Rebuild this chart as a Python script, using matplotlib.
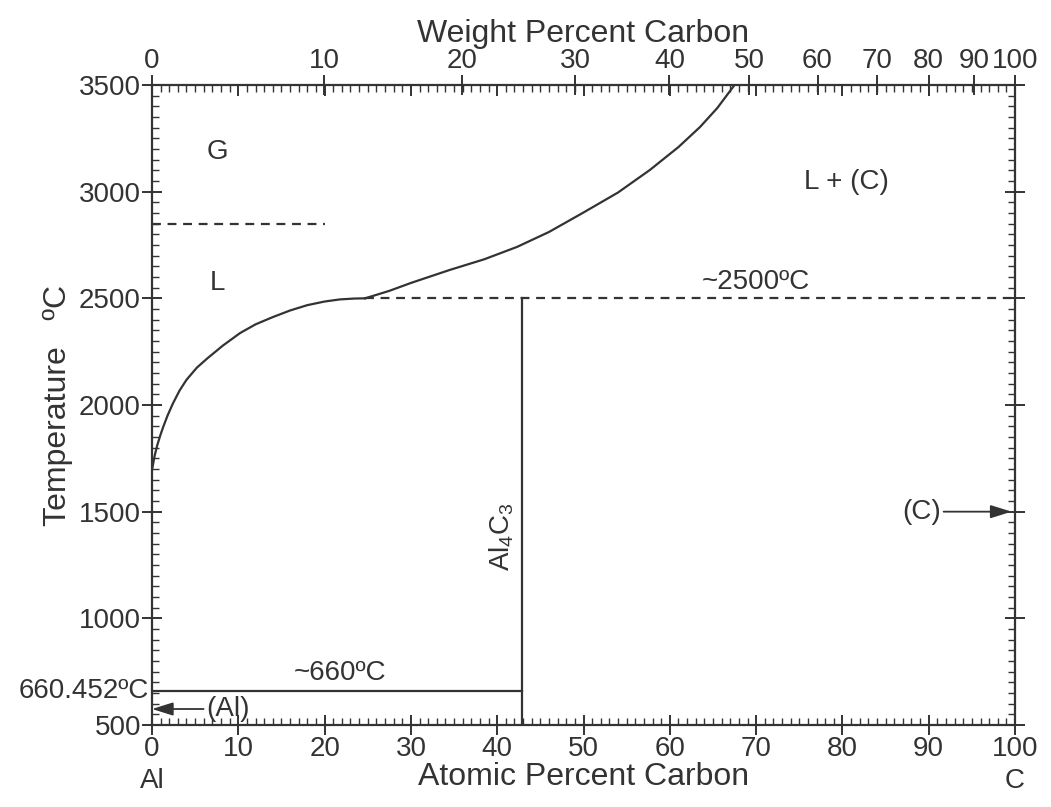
import numpy as np
import matplotlib
matplotlib.use("Agg")
import matplotlib.pyplot as plt
from matplotlib.ticker import MultipleLocator, FixedLocator, NullFormatter

plt.rcParams['font.family'] = ['Liberation Sans', 'DejaVu Sans']
plt.rcParams['mathtext.default'] = 'regular'

# liquidus, Al side (atomic % C, temperature C)
liq_lo_x = [0, 0.3, 0.6, 1.0, 1.3, 1.8, 2.4, 3.2, 4.0, 5.2, 6.4, 8.2, 10.2, 12.0, 14.0,
            16.0, 18.0, 20.0, 21.8, 23.5, 24.7]
liq_lo_t = [1695, 1760, 1810, 1862, 1897, 1950, 2005, 2068, 2118, 2175, 2218, 2278, 2337,
            2378, 2412, 2443, 2468, 2485, 2495, 2499, 2500]
# liquidus above the peritectic
liq_hi_x = [24.7, 27.5, 30.0, 34.5, 38.5, 42.3, 46.0, 49.9, 54.0, 57.7, 61.0, 63.5, 65.5, 67.5]
liq_hi_t = [2500, 2535, 2572, 2633, 2683, 2741, 2811, 2900, 2996, 3102, 3209, 3303, 3392, 3500]

t_boil = 2850       # dashed G / L boundary
t_peri = 2500       # ~2500 C
t_eut = 660         # ~660 C
x_al4c3 = 42.86     # Al4C3 composition
wt_ticks = [0, 10, 20, 30, 40, 50, 60, 70, 80, 90, 100]

ink = '#333333'

fig = plt.figure(figsize=(10.51, 8.07), dpi=100)
ax = fig.add_axes([0.1446, 0.1016, 0.8212, 0.7931])
ax.set_xlim(0, 100)
ax.set_ylim(500, 3500)

ax.plot(liq_lo_x, liq_lo_t, color=ink, lw=1.6)
ax.plot(liq_hi_x, liq_hi_t, color=ink, lw=1.6)
ax.plot([0, 20], [t_boil, t_boil], color=ink, lw=1.6, ls=(0, (4, 3)))
ax.plot([24.7, 100], [t_peri, t_peri], color=ink, lw=1.6, ls=(0, (4, 3)))
ax.plot([x_al4c3, x_al4c3], [500, t_peri], color=ink, lw=1.6)
ax.plot([0, x_al4c3], [t_eut, t_eut], color=ink, lw=1.6)

fs = 20
lfs = 23
ax.text(7.6, 3186, 'G', fontsize=fs, color=ink, ha='center', va='center')
ax.text(7.6, 2572, 'L', fontsize=fs, color=ink, ha='center', va='center')
ax.text(80.5, 3045, 'L + (C)', fontsize=fs, color=ink, ha='center', va='center')
ax.text(70, 2577, '~2500ºC', fontsize=fs, color=ink, ha='center', va='center')
ax.text(21.8, 743, '~660ºC', fontsize=fs, color=ink, ha='center', va='center')
ax.text(40.5, 1385, r'Al$_4$C$_3$', fontsize=fs, color=ink, ha='center', va='center',
        rotation=90)
ax.annotate('(Al)', xy=(0, 575), xytext=(6.3, 575), fontsize=fs, color=ink,
            ha='left', va='center',
            arrowprops=dict(arrowstyle='-|>,head_length=0.8,head_width=0.25', color=ink,
                            lw=1.3, mutation_scale=16, shrinkA=0, shrinkB=0))
ax.annotate('(C)', xy=(99.6, 1500), xytext=(91.4, 1500), fontsize=fs, color=ink,
            ha='right', va='center',
            arrowprops=dict(arrowstyle='-|>,head_length=0.8,head_width=0.25', color=ink,
                            lw=1.3, mutation_scale=16, shrinkA=0, shrinkB=0))
ax.text(-0.3, t_eut, '660.452ºC', fontsize=fs, color=ink, ha='right', va='center')

# ticks on main (bottom / left)
ax.xaxis.set_major_locator(MultipleLocator(10))
ax.xaxis.set_minor_locator(MultipleLocator(1))
ax.yaxis.set_major_locator(MultipleLocator(500))
ax.yaxis.set_minor_locator(MultipleLocator(50))
ax.tick_params(which='major', direction='inout', length=14, width=1.4, color=ink,
               labelsize=fs, labelcolor=ink, pad=1)
ax.tick_params(which='minor', direction='in', length=5, width=1.0, color=ink)
for s in ax.spines.values():
    s.set_color(ink)
    s.set_linewidth(1.6)

# mirrored atomic ticks on top and right
top = ax.secondary_xaxis('top')
top.xaxis.set_major_locator(MultipleLocator(10))
top.xaxis.set_minor_locator(MultipleLocator(1))
top.xaxis.set_major_formatter(NullFormatter())
top.tick_params(which='major', direction='in', length=8, width=1.4, color=ink)
top.tick_params(which='minor', direction='in', length=5, width=1.0, color=ink)
top.spines['top'].set_visible(False)

right = ax.secondary_yaxis('right')
right.yaxis.set_major_locator(MultipleLocator(500))
right.yaxis.set_minor_locator(MultipleLocator(50))
right.yaxis.set_major_formatter(NullFormatter())
right.tick_params(which='major', direction='inout', length=14, width=1.4, color=ink)
right.tick_params(which='minor', direction='in', length=5, width=1.0, color=ink)
right.spines['right'].set_visible(False)


# weight percent scale on top
def wt_to_at(w):
    w = np.asarray(w, dtype=float)
    c = w / 12.011
    a = (100 - w) / 26.98
    with np.errstate(divide='ignore', invalid='ignore'):
        return 100 * c / (c + a)


def at_to_wt(x):
    x = np.asarray(x, dtype=float)
    c = x * 12.011
    a = (100 - x) * 26.98
    with np.errstate(divide='ignore', invalid='ignore'):
        return 100 * c / (c + a)


wt = ax.secondary_xaxis('top', functions=(at_to_wt, wt_to_at))
wt.xaxis.set_major_locator(FixedLocator(wt_ticks))
wt.xaxis.set_minor_locator(FixedLocator([]))
wt.tick_params(which='major', direction='inout', length=14, width=1.4, color=ink,
               labelsize=fs, labelcolor=ink, pad=1)
wt.spines['top'].set_visible(False)
wt.set_xlabel('Weight Percent Carbon', fontsize=lfs, color=ink, labelpad=4)

ax.set_xlabel('Atomic Percent Carbon', fontsize=lfs, color=ink, labelpad=0)
ax.set_ylabel('Temperature   ºC', fontsize=lfs, color=ink, labelpad=4)

ax.annotate('Al', xy=(0, 0), xycoords=('data', 'axes fraction'), xytext=(0, -40),
            textcoords='offset points', fontsize=fs, color=ink, ha='center', va='center')
ax.annotate('C', xy=(100, 0), xycoords=('data', 'axes fraction'), xytext=(0, -40),
            textcoords='offset points', fontsize=fs, color=ink, ha='center', va='center')

fig.savefig('out.png', dpi=100)
